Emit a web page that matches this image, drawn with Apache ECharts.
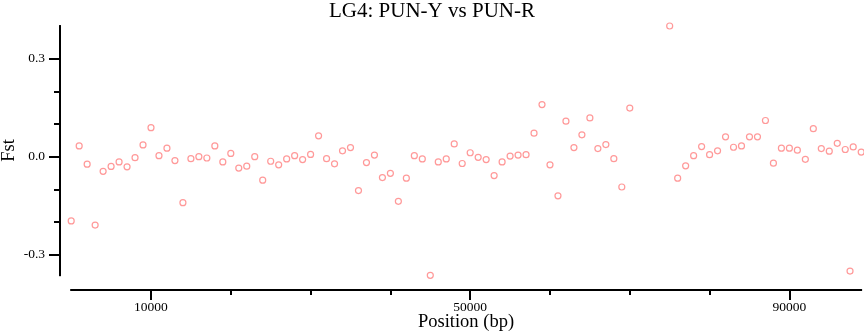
<!DOCTYPE html>
<html>
<head>
<meta charset="utf-8">
<script src="https://cdn.jsdelivr.net/npm/echarts@6/dist/echarts.min.js"></script>
<style>
html,body{margin:0;padding:0;background:#fff;}
#chart{width:864px;height:336px;}
</style>
</head>
<body>
<div id="chart"></div>
<script>
// Data
var positions = [
  0, 1000, 2000, 3000, 4000, 5000, 6000, 7000, 8000, 9000,
  10000, 11000, 12000, 13000, 14000, 15000, 16000, 17000, 18000, 19000,
  20000, 21000, 22000, 23000, 24000, 25000, 26000, 27000, 28000, 29000,
  30000, 31000, 32000, 33000, 34000, 35000, 36000, 37000, 38000, 39000,
  40000, 41000, 42000, 43000, 44000, 45000, 46000, 47000, 48000, 49000,
  50000, 51000, 52000, 53000, 54000, 55000, 56000, 57000, 58000, 59000,
  60000, 61000, 62000, 63000, 64000, 65000, 66000, 67000, 68000, 69000,
  70000,
  75000, 76000, 77000, 78000, 79000,
  80000, 81000, 82000, 83000, 84000, 85000, 86000, 87000, 88000, 89000,
  90000, 91000, 92000, 93000, 94000, 95000, 96000, 97000, 98000, 99000,
  97600
];
var fst = [
  -0.197, 0.033, -0.023, -0.210, -0.045, -0.030, -0.016, -0.031, -0.003, 0.036,
  0.089, 0.003, 0.026, -0.012, -0.141, -0.006, 0.000, -0.004, 0.033, -0.016,
  0.010, -0.035, -0.029, 0.000, -0.072, -0.014, -0.025, -0.007, 0.003, -0.009,
  0.007, 0.064, -0.006, -0.022, 0.018, 0.028, -0.104, -0.018, 0.005, -0.064,
  -0.051, -0.137, -0.066, 0.003, -0.007, -0.364, -0.016, -0.007, 0.039, -0.021,
  0.012, -0.002, -0.009, -0.058, -0.016, 0.002, 0.005, 0.006, 0.072, 0.160,
  -0.025, -0.120, 0.109, 0.028, 0.067, 0.119, 0.025, 0.037, -0.006, -0.093,
  0.149,
  0.401, -0.066, -0.028, 0.003, 0.031,
  0.006, 0.018, 0.061, 0.029, 0.033, 0.061, 0.061, 0.111, -0.020, 0.026,
  0.026, 0.020, -0.008, 0.086, 0.025, 0.017, 0.041, 0.022, 0.030, 0.014,
  -0.351
];
var xTickValues = [10000, 20000, 30000, 40000, 50000, 60000, 70000, 80000, 90000];
var xLabelValues = [10000, 50000, 90000];
var yTickValues = [-0.3, -0.2, -0.1, 0, 0.1, 0.2, 0.3];
var yLabelValues = [-0.3, 0, 0.3];
var titleText = 'LG4: PUN-Y vs PUN-R';
var xName = 'Position (bp)';
var yName = 'Fst';

var points = positions.map(function (p, i) { return [p, fst[i]]; });
var xMin = Math.min.apply(null, positions), xMax = Math.max.apply(null, positions);
var yMin = Math.min.apply(null, fst), yMax = Math.max.apply(null, fst);
var FONT = 'Liberation Serif';
var lineStyle = { color: '#000', width: 2 };

function xAxisBase() {
  return {
    type: 'value', gridIndex: 0, position: 'bottom', offset: 14.7,
    min: xMin, max: xMax, splitLine: { show: false },
    axisLine: { show: true, onZero: false, lineStyle: lineStyle }
  };
}
function yAxisBase() {
  return {
    type: 'value', gridIndex: 0, position: 'left', offset: 11.2,
    min: yMin, max: yMax, splitLine: { show: false },
    axisLine: { show: true, onZero: false, lineStyle: lineStyle }
  };
}

var xMinor = xAxisBase();
xMinor.axisTick = { show: true, length: 5, lineStyle: lineStyle, customValues: xTickValues };
xMinor.axisLabel = { show: false };

var xMajor = xAxisBase();
xMajor.axisTick = { show: true, length: 10, lineStyle: lineStyle, customValues: xLabelValues };
xMajor.axisLabel = { show: true, customValues: xLabelValues, margin: 10,
  fontFamily: FONT, fontSize: 13.5, color: '#000',
  formatter: function (v) { return String(v); } };

var yMinor = yAxisBase();
yMinor.axisTick = { show: true, length: 6, lineStyle: lineStyle, customValues: yTickValues };
yMinor.axisLabel = { show: false };

var yMajor = yAxisBase();
yMajor.axisTick = { show: true, length: 11, lineStyle: lineStyle, customValues: yLabelValues };
yMajor.axisLabel = { show: true, customValues: yLabelValues, margin: 15,
  fontFamily: FONT, fontSize: 13.5, color: '#000',
  formatter: function (v) { return (Math.round(v * 10) / 10).toFixed(1); } };

var chart = echarts.init(document.getElementById('chart'), null, { renderer: 'canvas' });
chart.setOption({
  animation: false,
  backgroundColor: '#fff',
  title: {
    text: titleText, left: 'center', top: 1, padding: 0,
    textStyle: { fontFamily: FONT, fontSize: 21, fontWeight: 'normal', color: '#000' }
  },
  grid: { left: 71.2, top: 26, width: 790, height: 249.3, containLabel: false, outerBoundsMode: 'none' },
  xAxis: [xMinor, xMajor],
  yAxis: [yMinor, yMajor],
  graphic: [
    { type: 'text', x: 466, y: 322,
      style: { text: xName, fill: '#000', font: '18.5px "Liberation Serif"',
               textAlign: 'center', textVerticalAlign: 'middle' } },
    { type: 'text', x: 9, y: 150.5, rotation: Math.PI / 2,
      style: { text: yName, fill: '#000', font: '18.5px "Liberation Serif"',
               textAlign: 'center', textVerticalAlign: 'middle' } }
  ],
  series: [{
    type: 'scatter',
    xAxisIndex: 0, yAxisIndex: 0,
    data: points,
    symbol: 'circle',
    symbolSize: 6,
    itemStyle: { color: 'rgba(0,0,0,0)', borderColor: '#ff8080', borderWidth: 1.2 }
  }]
});
</script>
</body>
</html>
